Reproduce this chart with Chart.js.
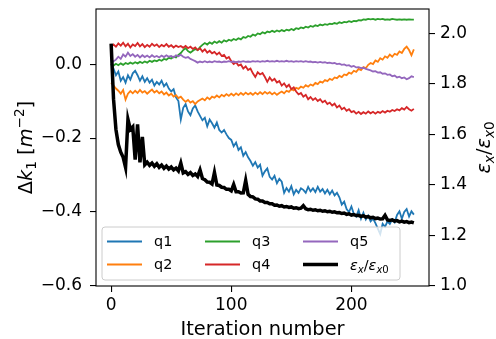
<!DOCTYPE html>
<html>
<head>
<meta charset="utf-8">
<script src="https://cdn.jsdelivr.net/npm/chart.js"></script>
<style>
html, body { margin: 0; padding: 0; background: #fff; }
#chart { display: block; }
</style>
</head>
<body>
<canvas id="chart" width="496" height="339"></canvas>
<script>
'use strict';
// one value every 2 iterations
const step = 2;

let q1 = [
  0.0, -0.012, -0.03, -0.02, -0.045, -0.035, -0.05, -0.03, -0.042, -0.025,
  -0.018, -0.03, -0.045, -0.033, -0.048, -0.038, -0.05, -0.042, -0.058, -0.048,
  -0.055, -0.045, -0.06, -0.052, -0.066, -0.074, -0.068, -0.09, -0.1, -0.15,
  -0.118, -0.108, -0.128, -0.138, -0.12, -0.112, -0.128, -0.14, -0.152, -0.145,
  -0.168, -0.15, -0.16, -0.172, -0.158, -0.178, -0.185, -0.178, -0.19, -0.2,
  -0.205, -0.222, -0.212, -0.232, -0.225, -0.248, -0.238, -0.252, -0.262, -0.275,
  -0.265, -0.28, -0.272, -0.302, -0.29, -0.282, -0.305, -0.312, -0.302, -0.322,
  -0.31, -0.318, -0.348, -0.335, -0.345, -0.33, -0.352, -0.34, -0.348, -0.336,
  -0.34, -0.348, -0.332, -0.344, -0.336, -0.346, -0.332, -0.345, -0.338, -0.35,
  -0.34, -0.352, -0.342, -0.355, -0.348, -0.36, -0.38, -0.372, -0.392, -0.4,
  -0.385, -0.405, -0.412, -0.395, -0.418, -0.402, -0.42, -0.41, -0.425, -0.418,
  -0.43, -0.445, -0.46, -0.432, -0.44, -0.425, -0.432, -0.42, -0.428, -0.408,
  -0.398, -0.418, -0.4, -0.392, -0.412, -0.398, -0.407
];
let q2 = [
  -0.05, -0.058, -0.066, -0.072, -0.08, -0.07, -0.096, -0.08, -0.073, -0.079,
  -0.072, -0.078, -0.07, -0.077, -0.073, -0.08, -0.074, -0.069, -0.077, -0.072,
  -0.079, -0.074, -0.082, -0.077, -0.085, -0.08, -0.088, -0.084, -0.092, -0.088,
  -0.096, -0.102, -0.097, -0.104, -0.1, -0.108, -0.101, -0.097, -0.093, -0.098,
  -0.09, -0.095, -0.088, -0.091, -0.085, -0.09, -0.083, -0.087, -0.081, -0.086,
  -0.08, -0.085, -0.079, -0.084, -0.078, -0.083, -0.077, -0.082, -0.078, -0.083,
  -0.077, -0.082, -0.076, -0.081, -0.075, -0.08, -0.076, -0.082, -0.077, -0.083,
  -0.078, -0.074, -0.079, -0.072, -0.075, -0.068, -0.071, -0.064, -0.067, -0.061,
  -0.064, -0.057, -0.061, -0.055, -0.058, -0.051, -0.054, -0.047, -0.05, -0.043,
  -0.046, -0.04, -0.043, -0.036, -0.038, -0.032, -0.035, -0.028, -0.03, -0.023,
  -0.026, -0.018, -0.021, -0.013, -0.016, -0.008, -0.011, -0.002, 0.003, 0.0,
  0.01, 0.006, 0.016, 0.012, 0.021, 0.017, 0.026, 0.02, 0.028, 0.025,
  0.034, 0.03, 0.041, 0.047, 0.038, 0.024, 0.04
];
let q3 = [
  0.0, -0.004, 0.001, -0.003, 0.002, -0.002, 0.003, 0.0, 0.004, 0.001,
  0.005, 0.002, 0.006, 0.003, 0.007, 0.004, 0.009, 0.006, 0.01, 0.008,
  0.012, 0.009, 0.014, 0.012, 0.017, 0.015, 0.02, 0.018, 0.025, 0.03,
  0.038, 0.043, 0.035, 0.031, 0.036, 0.041, 0.038, 0.046, 0.052, 0.057,
  0.053, 0.059, 0.055, 0.061, 0.057, 0.062, 0.058, 0.064, 0.061, 0.066,
  0.063, 0.068, 0.065, 0.07, 0.067, 0.073, 0.071, 0.076, 0.074, 0.08,
  0.077, 0.083, 0.081, 0.086, 0.083, 0.088, 0.086, 0.09, 0.087, 0.091,
  0.088, 0.092, 0.089, 0.093, 0.091, 0.095, 0.092, 0.097, 0.095, 0.099,
  0.097, 0.101, 0.099, 0.103, 0.101, 0.105, 0.103, 0.107, 0.105, 0.108,
  0.106, 0.109, 0.108, 0.111, 0.109, 0.113, 0.111, 0.114, 0.113, 0.116,
  0.114, 0.117, 0.116, 0.119, 0.118, 0.121, 0.12, 0.122, 0.121, 0.122,
  0.12, 0.122, 0.121, 0.122, 0.12, 0.121, 0.12, 0.122, 0.121, 0.12,
  0.121, 0.12, 0.121, 0.12, 0.121, 0.12, 0.12
];
let q4 = [
  0.046, 0.053, 0.047, 0.056, 0.05, 0.058, 0.048, 0.055, 0.045, 0.053,
  0.049, 0.057, 0.048, 0.054, 0.046, 0.052, 0.047, 0.055, 0.049, 0.053,
  0.046, 0.052, 0.048, 0.054, 0.047, 0.051, 0.045, 0.05, 0.046, 0.049,
  0.044, 0.049, 0.043, 0.047, 0.041, 0.045, 0.038, 0.043, 0.034, 0.04,
  0.031, 0.036, 0.029, 0.033, 0.026, 0.031, 0.022, 0.025, 0.015, 0.019,
  0.008, 0.0, 0.005, -0.004, -0.001, -0.012, -0.006, -0.016, -0.012, -0.025,
  -0.035, -0.022, -0.028, -0.024, -0.035, -0.048, -0.036, -0.045, -0.04, -0.05,
  -0.046, -0.058, -0.052, -0.062, -0.056, -0.068, -0.063, -0.074, -0.082, -0.078,
  -0.088, -0.083, -0.095, -0.089, -0.097, -0.092, -0.1, -0.095, -0.103, -0.099,
  -0.108, -0.104, -0.112, -0.107, -0.117, -0.112, -0.122, -0.118, -0.126, -0.122,
  -0.13, -0.127, -0.134, -0.129, -0.135, -0.13, -0.134, -0.128, -0.133, -0.129,
  -0.134, -0.129, -0.132, -0.127, -0.131, -0.126, -0.129, -0.124, -0.127, -0.122,
  -0.125, -0.119, -0.123, -0.116, -0.122, -0.126, -0.121
];
let q5 = [
  0.004, 0.008, 0.012, 0.02, 0.014, 0.026, 0.02, 0.031, 0.022, 0.027,
  0.02, 0.025, 0.018, 0.024, 0.019, 0.023, 0.018, 0.024, 0.019, 0.022,
  0.018, 0.023, 0.019, 0.024, 0.02, 0.022, 0.018, 0.024, 0.021, 0.025,
  0.02, 0.017, 0.019, 0.014, 0.011, 0.008, 0.004, 0.007, 0.005, 0.008,
  0.005, 0.007, 0.005, 0.008, 0.006, 0.007, 0.005, 0.007, 0.006, 0.008,
  0.006, 0.007, 0.005, 0.007, 0.006, 0.008, 0.006, 0.007, 0.006, 0.008,
  0.007, 0.008, 0.006, 0.008, 0.007, 0.009, 0.007, 0.008, 0.007, 0.009,
  0.007, 0.008, 0.007, 0.009, 0.007, 0.008, 0.006, 0.008, 0.007, 0.008,
  0.006, 0.008, 0.006, 0.007, 0.005, 0.006, 0.004, 0.006, 0.004, 0.005,
  0.003, 0.004, 0.002, 0.003, 0.0, 0.001, -0.002, -0.001, -0.004, -0.003,
  -0.007, -0.005, -0.009, -0.008, -0.011, -0.01, -0.013, -0.015, -0.017, -0.02,
  -0.019, -0.023, -0.022, -0.026, -0.025, -0.029, -0.028, -0.033, -0.031, -0.036,
  -0.034, -0.038, -0.036, -0.041, -0.038, -0.033, -0.035
];
// emittance ratio, right axis
let epsRatio = [
  1.96, 1.74, 1.62, 1.56, 1.53, 1.51, 1.47, 1.66, 1.62, 1.63,
  1.5, 1.64, 1.49, 1.59, 1.48, 1.49, 1.478, 1.487, 1.474, 1.484,
  1.47, 1.479, 1.466, 1.475, 1.463, 1.471, 1.46, 1.467, 1.456, 1.487,
  1.448, 1.453, 1.442, 1.449, 1.438, 1.444, 1.434, 1.46, 1.426, 1.421,
  1.412, 1.411, 1.404, 1.45, 1.4, 1.398, 1.391, 1.39, 1.383, 1.383,
  1.377, 1.402, 1.373, 1.373, 1.368, 1.369, 1.418, 1.363, 1.354, 1.353,
  1.345, 1.344, 1.337, 1.337, 1.331, 1.331, 1.326, 1.326, 1.32, 1.321,
  1.316, 1.318, 1.313, 1.315, 1.311, 1.313, 1.308, 1.31, 1.306, 1.308,
  1.318, 1.306, 1.302, 1.304, 1.3, 1.302, 1.298, 1.3, 1.296, 1.298,
  1.294, 1.296, 1.292, 1.294, 1.29, 1.291, 1.287, 1.289, 1.284, 1.286,
  1.281, 1.283, 1.279, 1.28, 1.276, 1.278, 1.273, 1.275, 1.27, 1.272,
  1.267, 1.269, 1.265, 1.266, 1.28, 1.262, 1.26, 1.262, 1.257, 1.259,
  1.254, 1.257, 1.253, 1.255, 1.251, 1.253, 1.25
];

let xTicks = [0, 100, 200];
let leftTicks = [-0.6, -0.4, -0.2, 0.0];
let rightTicks = [1.0, 1.2, 1.4, 1.6, 1.8, 2.0];

let iterations = q1.map((v, i) => i * step);

const FONT = '"DejaVu Sans"';

function points(values) {
    return values.map((v, i) => ({ x: iterations[i], y: v }));
}

function decimal(v) {
    return (v < 0 ? '\u2212' : '') + Math.abs(v).toFixed(1);
}

// tiny mathtext: pieces of text, italic / sub / sup
function fontFor(p, size) {
    let s = (p.sub || p.sup) ? size * 0.7 : size;
    return (p.it ? 'italic ' : '') + s.toFixed(1) + 'px ' + FONT;
}
function drawMath(ctx, parts, x, y, size, align) {
    let widths = parts.map(p => { ctx.font = fontFor(p, size); return ctx.measureText(p.t).width; });
    let total = widths.reduce((a, b) => a + b, 0);
    let cx = align === 'center' ? x - total / 2 : x;
    ctx.textAlign = 'left';
    ctx.textBaseline = 'alphabetic';
    parts.forEach((p, i) => {
        ctx.font = fontFor(p, size);
        let dy = p.sub ? size * 0.22 : (p.sup ? -size * 0.42 : 0);
        ctx.fillText(p.t, cx, y + dy);
        cx += widths[i];
    });
}

let leftTitle = [{ t: '\u0394' }, { t: 'k', it: true }, { t: '1', sub: true }, { t: ' [' },
    { t: 'm', it: true }, { t: '\u22122', sup: true }, { t: ']' }];
let epsTitle = [{ t: '\u03b5', it: true }, { t: 'x', it: true, sub: true }, { t: '/' },
    { t: '\u03b5', it: true }, { t: 'x', it: true, sub: true }, { t: '0', sub: true }];

let decorations = {
    id: 'decorations',
    afterDraw(chart) {
        const ctx = chart.ctx;
        const a = chart.chartArea;
        ctx.save();
        ctx.strokeStyle = '#000';
        ctx.lineWidth = 1.1;
        ctx.strokeRect(a.left, a.top, a.right - a.left, a.bottom - a.top);

        // legend, matplotlib style, 3 columns filled top to bottom
        ctx.beginPath();
        ctx.roundRect(102, 227, 298, 53, 3);
        ctx.fillStyle = 'rgba(255,255,255,0.8)';
        ctx.fill();
        ctx.strokeStyle = '#cccccc';
        ctx.lineWidth = 1;
        ctx.stroke();
        let colX = [107, 205, 303];
        let rowY = [241.5, 264.5];
        chart.data.datasets.forEach((ds, k) => {
            let x = colX[Math.floor(k / 2)];
            let y = rowY[k % 2];
            ctx.beginPath();
            ctx.moveTo(x, y);
            ctx.lineTo(x + 35, y);
            ctx.strokeStyle = ds.borderColor;
            ctx.lineWidth = ds.borderWidth;
            ctx.stroke();
            ctx.fillStyle = '#000';
            if (ds.label === 'eps') {
                drawMath(ctx, epsTitle, x + 47, y + 5, 14.4, 'left');
            } else {
                ctx.font = '14.4px ' + FONT;
                ctx.textAlign = 'left';
                ctx.textBaseline = 'middle';
                ctx.fillText(ds.label, x + 47, y + 1);
            }
        });

        // axis titles
        ctx.fillStyle = '#000';
        ctx.font = '19.4px ' + FONT;
        ctx.textAlign = 'center';
        ctx.textBaseline = 'alphabetic';
        ctx.fillText('Iteration number', (a.left + a.right) / 2, 335);

        let midY = (a.top + a.bottom) / 2;
        ctx.save();
        ctx.translate(32, midY);
        ctx.rotate(-Math.PI / 2);
        drawMath(ctx, leftTitle, 0, 0, 19.4, 'center');
        ctx.restore();

        ctx.save();
        ctx.translate(490, midY);
        ctx.rotate(-Math.PI / 2);
        drawMath(ctx, epsTitle, 0, 0, 19.4, 'center');
        ctx.restore();

        ctx.restore();
    }
};

function axisStyle() {
    return {
        grid: { drawOnChartArea: false, color: '#000', lineWidth: 1.1, tickLength: 6 },
        border: { display: false },
        ticks: { color: '#000', font: { family: FONT, size: 17 } }
    };
}

let xAxis = axisStyle();
xAxis.type = 'linear';
xAxis.min = -12.6;
xAxis.max = 264.6;
xAxis.ticks.padding = 3;
xAxis.ticks.callback = v => String(v);
xAxis.afterBuildTicks = s => { s.ticks = xTicks.map(v => ({ value: v })); };
xAxis.afterFit = s => { s.height = 53; s.paddingLeft = 0; s.paddingRight = 0; };

let yAxis = axisStyle();
yAxis.position = 'left';
yAxis.min = -0.6;
yAxis.max = 0.149;
yAxis.ticks.padding = 8;
yAxis.ticks.callback = v => decimal(v);
yAxis.afterBuildTicks = s => { s.ticks = leftTicks.map(v => ({ value: v })); };
yAxis.afterFit = s => { s.width = 96; s.paddingTop = 0; s.paddingBottom = 0; };

let y2Axis = axisStyle();
y2Axis.position = 'right';
y2Axis.min = 1.0;
y2Axis.max = 2.097;
y2Axis.ticks.padding = 5;
y2Axis.ticks.callback = v => decimal(v);
y2Axis.afterBuildTicks = s => { s.ticks = rightTicks.map(v => ({ value: v })); };
y2Axis.afterFit = s => { s.width = 67; s.paddingTop = 0; s.paddingBottom = 0; };

function line(label, values, color, order) {
    return { label: label, data: points(values), borderColor: color, borderWidth: 1.8,
        yAxisID: 'y', order: order };
}

let datasets = [
    line('q1', q1, '#1f77b4', 6),
    line('q2', q2, '#ff7f0e', 5),
    line('q3', q3, '#2ca02c', 4),
    line('q4', q4, '#d62728', 3),
    line('q5', q5, '#9467bd', 2),
    { label: 'eps', data: points(epsRatio), borderColor: '#000', borderWidth: 3.5, yAxisID: 'y2', order: 1 }
];

new Chart(document.getElementById('chart'), {
    type: 'line',
    data: { datasets: datasets },
    options: {
        responsive: false,
        animation: false,
        devicePixelRatio: 1,
        layout: { padding: { top: 9, left: 0, right: 0, bottom: 0 } },
        elements: { point: { radius: 0 }, line: { tension: 0 } },
        plugins: { legend: { display: false }, tooltip: { enabled: false } },
        scales: { x: xAxis, y: yAxis, y2: y2Axis }
    },
    plugins: [decorations]
});
</script>
</body>
</html>
